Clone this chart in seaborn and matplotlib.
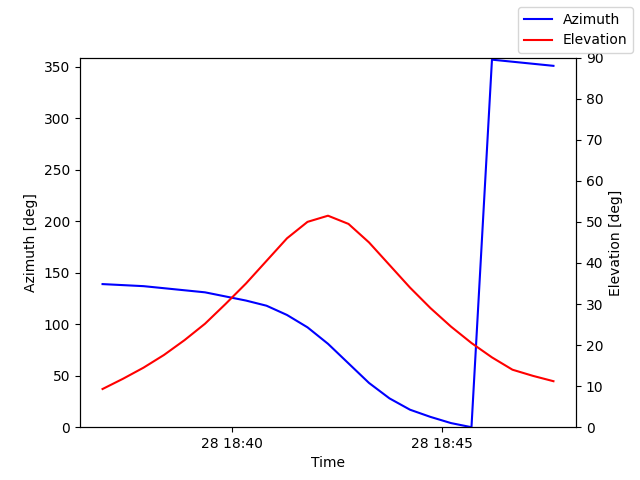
import matplotlib
matplotlib.use("Agg")
import matplotlib.pyplot as plt
import matplotlib.dates as mdates
import seaborn as sns
import pandas as pd

times = pd.date_range("2024-01-28 18:36:55", periods=23, freq="29300ms")
azimuth = [139,138,137,135,133,131,127,123,118,109,97,81,62,43,28,17,10,4,0,357,355,353,351]
elevation = [9.3,11.8,14.5,17.6,21.2,25.2,30,35,40.5,46,50,51.5,49.5,45,39.5,34,29,24.5,20.5,17,14,12.5,11.2]
df = pd.DataFrame({"Time": times, "Azimuth": azimuth, "Elevation": elevation})

fig, ax = plt.subplots(figsize=(6.4, 4.8), dpi=100)
sns.lineplot(data=df, x="Time", y="Azimuth", ax=ax, color="blue", label="Azimuth", legend=False)
ax2 = ax.twinx()
sns.lineplot(data=df, x="Time", y="Elevation", ax=ax2, color="red", label="Elevation", legend=False)
ax.set_ylim(0, 359)
ax2.set_ylim(0, 90)
ax.set_ylabel("Azimuth [deg]")
ax2.set_ylabel("Elevation [deg]")
ax.set_xlabel("Time")
ax.xaxis.set_major_locator(mdates.MinuteLocator(byminute=[40, 45]))
ax.xaxis.set_major_formatter(mdates.DateFormatter("%d %H:%M"))
fig.legend(loc="upper right")
fig.savefig("out.png")
